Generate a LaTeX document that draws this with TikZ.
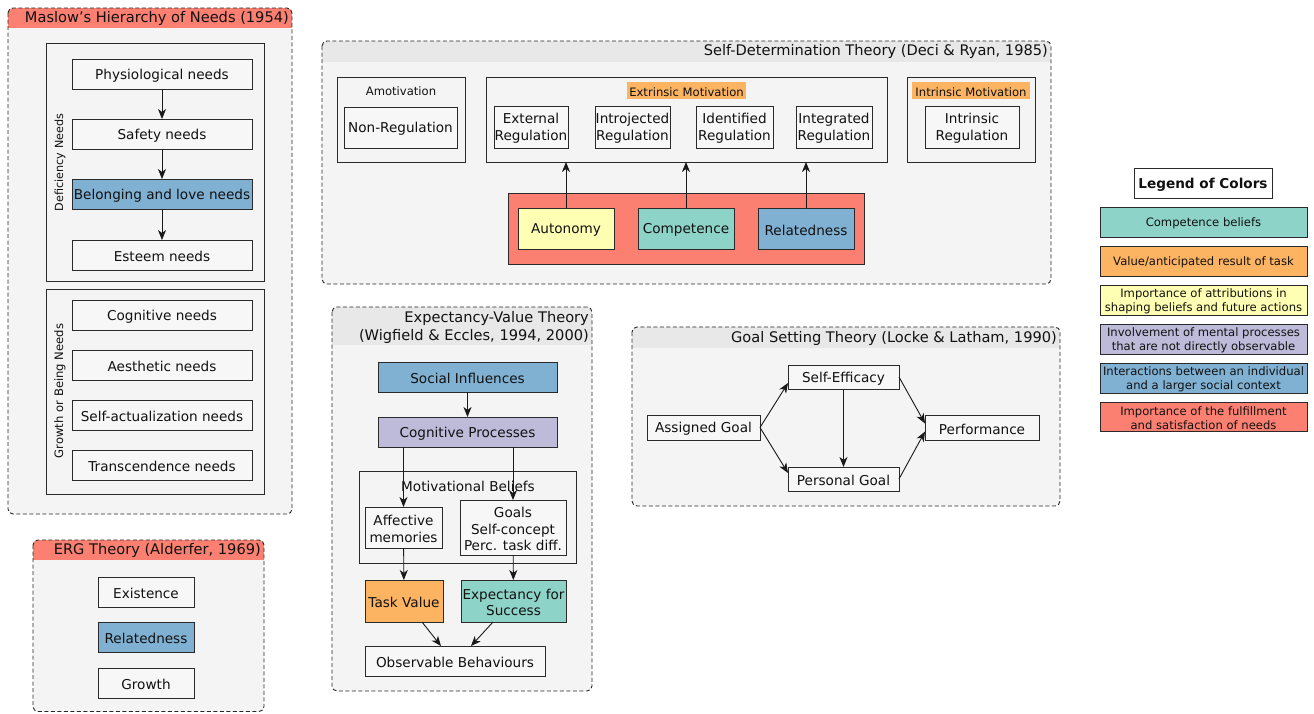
\documentclass[tikz,border=0pt]{standalone}
\usepackage{fontspec}
\setmainfont{DejaVu Sans}
\usetikzlibrary{arrows.meta,calc}
\definecolor{cteal}{HTML}{8DD3C7}
\definecolor{corange}{HTML}{FDB462}
\definecolor{cyellow}{HTML}{FFFFB3}
\definecolor{cpurple}{HTML}{BEBADA}
\definecolor{cblue}{HTML}{80B1D3}
\definecolor{cred}{HTML}{FB8072}
\definecolor{grpbg}{HTML}{F4F4F4}
\definecolor{hdrgray}{HTML}{E8E8E8}
\definecolor{nodebg}{HTML}{F7F7F7}
\definecolor{txt}{HTML}{111111}
\definecolor{edge}{HTML}{2A2A2A}
\newcommand\fsN{\fontsize{13.6}{16.8}\selectfont}
\newcommand\fsS{\fontsize{11.6}{14.2}\selectfont}
\newcommand\fsH{\fontsize{14.6}{18}\selectfont}
\tikzset{
  box/.style={draw=edge, line width=0.9pt, fill=nodebg, inner sep=1pt, outer sep=0pt, align=center, font=\fsN, text=txt},
  cont/.style={box, fill=grpbg},
  arr/.style={-{Stealth[length=10pt,width=8pt,inset=3pt]}, line width=0.9pt, draw=black!90},
  grpline/.style={draw=black!85, dash pattern=on 4pt off 2.5pt, line width=0.9pt, rounded corners=5pt},
  hdrtext/.style={font=\fsH, text=txt, inner sep=1pt, anchor=east, align=right},
  lbl/.style={font=\fsS, text=txt, inner sep=1.5pt},
  leg/.style={box, font=\fsS, text=txt},
  boxtext/.style={draw=none, fill=none, minimum width=0pt, minimum height=0pt, yshift=-1.5pt},
}
% name, x1, y1, x2, y2, style, text
\newcommand\bx[7]{%
  \node[#6, minimum width={(#4-#2)*1pt}, minimum height={(#5-#3)*1pt}] (#1) at ({(#2+#4)/2},{(#3+#5)/2}) {};
  \node[#6, boxtext] (#1t) at (#1.center) {#7};}
% x1,y1,x2,y2,header bottom,header colour
\newcommand\grpbox[6]{%
  \begin{scope}
    \clip[rounded corners=5pt] (#1,#2) rectangle (#3,#4);
    \fill[grpbg] (#1,#2) rectangle (#3,#4);
    \fill[#6] (#1,#2) rectangle (#3,#5);
  \end{scope}
  \draw[grpline] (#1,#2) rectangle (#3,#4);}
\begin{document}
\begin{tikzpicture}[x=1pt,y=-1pt]
\useasboundingbox[fill=white] (0,0) rectangle (1314,713);

% ---------------- Maslow ----------------
\grpbox{8}{8}{292}{514}{28}{cred}
\node[hdrtext] (mhdr) at (290,18.5) {Maslow's Hierarchy of Needs (1954)};
\bx{defc}{46}{43}{264}{281}{cont}{}
\bx{grwc}{46}{289}{264}{494}{cont}{}
\node[lbl, rotate=90, font=\fontsize{11.2}{14}\selectfont] (deflbl) at (60,162.5) {Deficiency Needs};
\node[lbl, rotate=90, font=\fontsize{11.6}{14}\selectfont] (grwlbl) at (60,391) {Growth or Being Needs};
\bx{phys}{72}{59}{252}{89}{box}{Physiological needs}
\bx{safe}{72}{119}{252}{149}{box}{Safety needs}
\bx{belo}{72}{179}{252}{209}{box,fill=cblue}{Belonging and love needs}
\bx{este}{72}{240}{252}{270}{box}{Esteem needs}
\bx{cogn}{72}{300}{252}{330}{box}{Cognitive needs}
\bx{aest}{72}{350}{252}{380}{box}{Aesthetic needs}
\bx{sact}{72}{400}{252}{430}{box}{Self-actualization needs}
\bx{tran}{72}{450}{252}{480}{box}{Transcendence needs}
\draw[arr] (phys) -- (safe);
\draw[arr] (safe) -- (belo);
\draw[arr] (belo) -- (este);

% ---------------- ERG ----------------
\grpbox{33}{540}{264}{711.5}{560}{cred}
\node[hdrtext] (ehdr) at (262,550.5) {ERG Theory (Alderfer, 1969)};
\bx{exis}{98}{577}{194}{607}{box}{Existence}
\bx{erel}{98}{622}{194}{652}{box,fill=cblue}{Relatedness}
\bx{egro}{98}{668}{194}{698}{box}{Growth}

% ---------------- SDT ----------------
\grpbox{322}{41}{1051}{284}{62}{hdrgray}
\node[hdrtext] (shdr) at (1049,51.5) {Self-Determination Theory (Deci \& Ryan, 1985)};
\bx{amot}{337}{77}{465}{162}{cont}{}
\bx{extr}{486}{77}{887}{162}{cont}{}
\bx{intr}{907}{77}{1035}{162}{cont}{}
\node[lbl] (amotl) at (401,91) {Amotivation};
\bx{extrl}{627}{82}{746}{99}{lbl,fill=corange}{Extrinsic Motivation}
\bx{intrl}{912}{82}{1030}{99}{lbl,fill=corange}{Intrinsic Motivation}
\bx{nonr}{344}{107}{457}{148}{box}{Non-Regulation}
\bx{exre}{494}{106}{568}{148}{box}{External\\Regulation}
\bx{inre}{595}{106}{670}{148}{box}{Introjected\\Regulation}
\bx{idre}{696}{106}{773}{148}{box}{Identified\\Regulation}
\bx{itre}{796}{106}{872}{148}{box}{Integrated\\Regulation}
\bx{inrg}{925}{106}{1019}{148}{box}{Intrinsic\\Regulation}
\bx{needs}{508}{193}{864}{264}{box,fill=cred}{}
\bx{auto}{518}{208}{614}{249}{box,fill=cyellow}{Autonomy}
\bx{comp}{638}{208}{734}{249}{box,fill=cteal}{Competence}
\bx{srel}{758}{208}{854}{249}{box,fill=cblue}{Relatedness}
\draw[arr] (auto.north) -- (auto.north |- extr.south);
\draw[arr] (comp.north) -- (comp.north |- extr.south);
\draw[arr] (srel.north) -- (srel.north |- extr.south);

% ---------------- Expectancy-Value ----------------
\grpbox{332}{307}{592}{691}{345}{hdrgray}
\node[hdrtext, font=\fontsize{14.6}{18}\selectfont] (vhdr) at (590,327) {Expectancy-Value Theory\\(Wigfield \& Eccles, 1994, 2000)};
\bx{soci}{378}{362}{557}{392}{box,fill=cblue}{Social Influences}
\bx{cogp}{378}{417}{557}{447}{box,fill=cpurple}{Cognitive Processes}
\bx{motb}{359}{471}{576}{563}{cont}{}
\node[font=\fsN, text=txt, inner sep=1pt] (motbl) at (468,486) {Motivational Beliefs};
\bx{affm}{365}{507}{442}{548}{box}{Affective\\memories}
\bx{goal}{460}{500}{566}{555}{box}{Goals\\Self-concept\\Perc. task diff.}
\bx{tval}{365}{580}{443}{622}{box,fill=corange}{Task Value}
\bx{expe}{461}{580}{566}{622}{box,fill=cteal}{Expectancy for\\Success}
\bx{obsb}{365}{646}{545}{676}{box}{Observable Behaviours}
\draw[arr] (soci) -- (cogp);
\draw[arr] (cogp.south -| affm.north) -- (affm.north);
\draw[arr] (cogp.south -| goal.north) -- (goal.north);
\draw[arr] (affm) -- (tval);
\draw[arr] (goal) -- (expe);
\coordinate (tvs) at (422,622);
\coordinate (exs) at (493,622);
\coordinate (obt1) at (441,646);
\coordinate (obt2) at (471,646);
\draw[arr] (tvs) -- (obt1);
\draw[arr] (exs) -- (obt2);

% ---------------- Goal Setting ----------------
\grpbox{632}{327}{1060}{506}{348}{hdrgray}
\node[hdrtext] (ghdr) at (1058,338) {Goal Setting Theory (Locke \& Latham, 1990)};
\bx{asgo}{647}{415}{760}{440}{box}{Assigned Goal}
\bx{seff}{788}{365}{899}{389}{box}{Self-Efficacy}
\bx{pers}{788}{467}{899}{491}{box}{Personal Goal}
\bx{perf}{925}{415}{1039}{440}{box}{Performance}
\draw[arr] (asgo.east) -- ($(seff.south west)!0.25!(seff.north west)$);
\draw[arr] (asgo.east) -- ($(pers.north west)!0.25!(pers.south west)$);
\draw[arr] (seff) -- (pers);
\draw[arr] (seff.east) -- ($(perf.west)+(0,-4)$);
\draw[arr] (pers.east) -- ($(perf.west)+(0,4)$);

% ---------------- Legend ----------------
\bx{legt}{1134}{168}{1272}{198}{box,fill=white,font=\bfseries\fsN}{Legend of Colors}
\bx{l1}{1100}{207}{1307}{237}{leg,fill=cteal}{Competence beliefs}
\bx{l2}{1100}{246}{1307}{276}{leg,fill=corange}{Value/anticipated result of task}
\bx{l3}{1100}{285}{1307}{315}{leg,fill=cyellow}{Importance of attributions in\\shaping beliefs and future actions}
\bx{l4}{1100}{324}{1307}{354}{leg,fill=cpurple}{Involvement of mental processes\\that are not directly observable}
\bx{l5}{1100}{363}{1307}{393}{leg,fill=cblue}{Interactions between an individual\\and a larger social context}
\bx{l6}{1100}{402}{1307}{431}{leg,fill=cred}{Importance of the fulfillment\\and satisfaction of needs}
\end{tikzpicture}
\end{document}
